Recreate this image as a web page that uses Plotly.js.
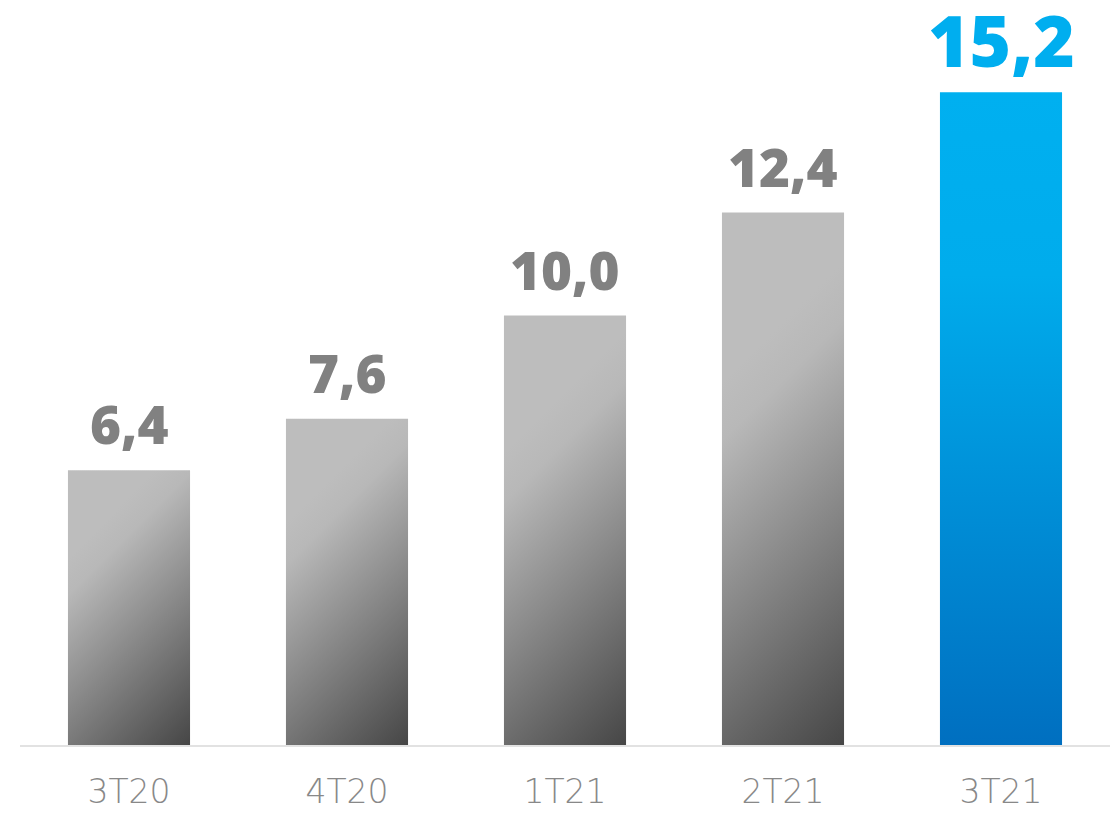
<!DOCTYPE html>
<html>
<head>
<meta charset="utf-8">
<script src="https://cdn.plot.ly/plotly-3.0.1.min.js"></script>
<style>
  html, body { margin: 0; padding: 0; background: #ffffff; }
  #chart { width: 1114px; height: 813px; }
</style>
</head>
<body>
<div id="chart"></div>
<script>
// ---- data ----
const categories = ["3T20", "4T20", "1T21", "2T21", "3T21"];
const values = [6.4, 7.6, 10.0, 12.4, 15.2];
const valueLabels = ["6,4", "7,6", "10,0", "12,4", "15,2"];
const highlight = [false, false, false, false, true];

const grayLabel = "#818181";
const blueLabel = "#00AEEF";

const trace = {
  type: "bar",
  x: categories,
  y: values,
  marker: { color: highlight.map(h => h ? "#009ee0" : "#8a8a8a"), line: { width: 0 } },
  hoverinfo: "none"
};

const annotations = categories.map((c, i) => ({
  x: c,
  y: values[i],
  xref: "x",
  yref: "y",
  text: valueLabels[i],
  showarrow: false,
  yanchor: "bottom",
  borderpad: 0,
  yshift: highlight[i] ? 3 : 9,
  font: {
    family: "'Open Sans', sans-serif",
    weight: 800,
    size: highlight[i] ? 71 : 53,
    color: highlight[i] ? blueLabel : grayLabel
  }
}));

const layout = {
  width: 1114,
  height: 813,
  margin: { l: 20, r: 4, t: 0, b: 68 },
  paper_bgcolor: "#ffffff",
  plot_bgcolor: "#ffffff",
  bargap: 0.44,
  showlegend: false,
  xaxis: {
    type: "category",
    showline: true,
    linecolor: "#e2e2e2",
    linewidth: 2,
    showgrid: false,
    zeroline: false,
    ticks: "",
    ticklabelstandoff: 16,
    tickfont: { family: "'DejaVu Sans', sans-serif", weight: 200, size: 33, color: "#888888" }
  },
  yaxis: {
    range: [0, 17.35],
    visible: false,
    showgrid: false,
    zeroline: false
  },
  annotations: annotations
};

function applyGradients(gd) {
  const svg = gd.querySelector("svg.main-svg");
  const NS = "http://www.w3.org/2000/svg";
  let defs = svg.querySelector("defs#customgrad");
  if (!defs) {
    defs = document.createElementNS(NS, "defs");
    defs.setAttribute("id", "customgrad");
    svg.insertBefore(defs, svg.firstChild);
  }
  while (defs.firstChild) defs.removeChild(defs.firstChild);
  const paths = gd.querySelectorAll(".barlayer .point path");
  paths.forEach((p, i) => {
    const bb = p.getBBox();
    const x0 = bb.x, y0 = bb.y, x1 = bb.x + bb.width, y1 = bb.y + bb.height;
    const g = document.createElementNS(NS, "linearGradient");
    const id = "bargrad" + i;
    g.setAttribute("id", id);
    g.setAttribute("gradientUnits", "userSpaceOnUse");
    let stops;
    if (highlight[i]) {
      g.setAttribute("x1", x0); g.setAttribute("y1", y0);
      g.setAttribute("x2", x0); g.setAttribute("y2", y1);
      stops = [[0, "#00b0f0"], [0.28, "#00acec"], [1, "#006fc0"]];
    } else {
      const d = (bb.width + 0.68 * bb.height) / 2;
      g.setAttribute("x1", x1 - d); g.setAttribute("y1", y1 - d);
      g.setAttribute("x2", x1); g.setAttribute("y2", y1);
      stops = [[0, "#bdbdbd"], [0.12, "#b8b8b8"], [1, "#464646"]];
    }
    stops.forEach(s => {
      const st = document.createElementNS(NS, "stop");
      st.setAttribute("offset", s[0]);
      st.setAttribute("stop-color", s[1]);
      g.appendChild(st);
    });
    defs.appendChild(g);
    p.style.fill = "url(#" + id + ")";
  });
}

Plotly.newPlot("chart", [trace], layout, { displayModeBar: false, staticPlot: true })
  .then(gd => applyGradients(gd));
</script>
</body>
</html>
